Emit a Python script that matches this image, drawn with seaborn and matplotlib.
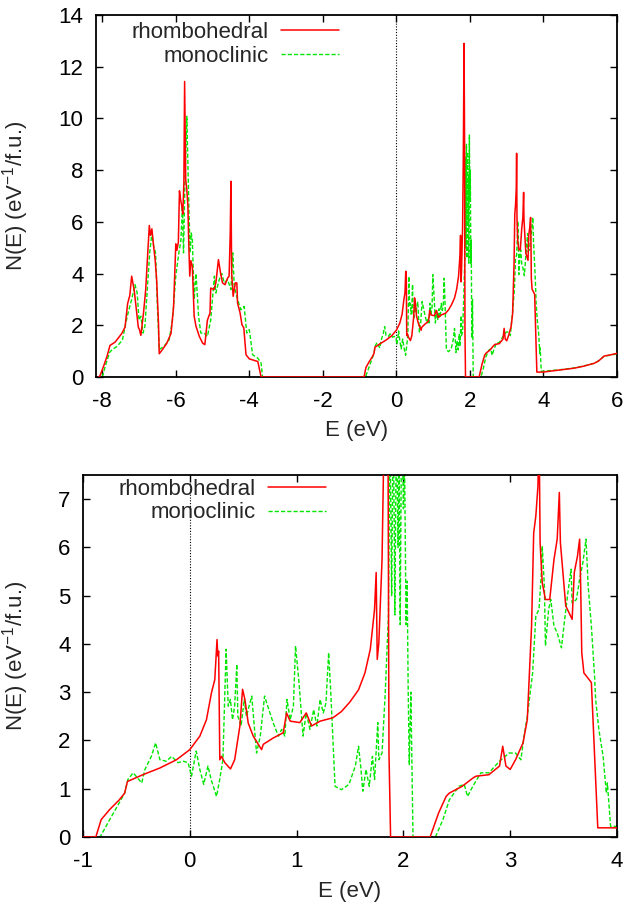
import numpy as np
import pandas as pd
import matplotlib
matplotlib.use("Agg")
import matplotlib.pyplot as plt
import seaborn as sns

# ---------------- data ----------------
rhombo_E = [-8.09, -8.06, -7.97, -7.87, -7.79, -7.65, -7.47, -7.38, -7.31, -7.25, -7.2, -7.13, -7.06,
            -7.02, -6.99, -6.95, -6.88, -6.82, -6.76, -6.72, -6.69, -6.65, -6.61, -6.56, -6.52, -6.47,
            -6.45, -6.38, -6.25, -6.13, -6.06, -6.0, -5.97, -5.93, -5.9, -5.87, -5.84, -5.81, -5.78,
            -5.76, -5.73, -5.7, -5.67, -5.65, -5.62, -5.59, -5.55, -5.5, -5.45, -5.36, -5.27, -5.21,
            -5.14, -5.07, -5.05, -4.96, -4.91, -4.84, -4.78, -4.73, -4.66, -4.59, -4.55, -4.52, -4.5,
            -4.48, -4.44, -4.38, -4.34, -4.32, -4.25, -4.2, -4.15, -4.09, -4.0, -3.77, -3.68,
            -0.88, -0.83, -0.75, -0.66, -0.61, -0.584, -0.44, -0.28, -0.125, 0.0, 0.094, 0.156, 0.203,
            0.234, 0.255, 0.262, 0.27, 0.281, 0.297, 0.328, 0.381, 0.42, 0.469, 0.494, 0.516, 0.547,
            0.594, 0.672, 0.688, 0.78, 0.875, 0.906, 0.94, 1.03, 1.09, 1.14, 1.22, 1.34, 1.42, 1.5,
            1.58, 1.64, 1.69, 1.73, 1.745, 1.755, 1.77, 1.80, 1.82, 1.84, 1.855, 1.865, 1.88,
            2.25, 2.33, 2.40, 2.43, 2.55, 2.65, 2.68, 2.8, 2.9, 2.93, 2.96, 3.0, 3.05, 3.12, 3.16,
            3.2, 3.22, 3.24, 3.26, 3.27, 3.28, 3.30, 3.33, 3.37, 3.41, 3.44, 3.46, 3.47, 3.52, 3.55,
            3.58, 3.60, 3.63, 3.65, 3.66, 3.67, 3.69, 3.76, 3.82, 3.99, 4.5, 4.83, 5.1, 5.38, 5.5,
            5.65, 5.8, 6.02]
rhombo_N = [0.0, 0.06, 0.39, 0.8, 1.22, 1.35, 1.68, 1.93, 2.84, 3.16, 3.9, 3.35, 2.45,
            1.93, 1.84, 1.61, 2.45, 3.35, 4.9, 5.86, 5.48, 5.73, 5.15, 4.51, 3.74, 2.06,
            0.9, 1.03, 1.29, 1.68, 2.71, 5.15, 4.9, 5.22, 7.2, 6.86, 6.64, 6.3, 7.5,
            11.43, 7.63, 7.25, 6.6, 5.3, 3.9, 4.5, 4.28, 2.35, 1.96, 1.57, 1.31, 1.25,
            2.2, 2.47, 3.44, 3.38, 3.64, 4.54, 4.0, 3.64, 3.57, 3.83, 3.9, 5.5, 7.57,
            4.0, 3.12, 3.64, 3.64, 2.86, 2.47, 2.02, 1.9, 0.86, 0.7, 0.6, 0.0,
            0.0, 0.36, 0.57, 0.77, 0.91, 1.15, 1.29, 1.43, 1.6, 1.81, 2.09, 2.43, 2.99,
            3.26, 4.09, 3.75, 3.85, 1.6, 1.67, 1.54, 1.41, 1.6, 2.3, 3.06, 2.85, 2.36,
            2.09, 1.81, 1.92, 2.05, 2.16, 2.57, 2.4, 2.37, 2.57, 2.3, 2.4, 2.47, 2.6, 2.8,
            3.05, 3.4, 3.89, 4.72, 5.48, 3.68, 4.02, 5.75, 8.5, 12.9, 9.0, 1.74, 0.0,
            0.0, 0.5, 0.84, 0.91, 1.05, 1.22, 1.26, 1.29, 1.47, 1.88, 1.47, 1.4, 1.6, 1.95, 2.43,
            4.37, 6.3, 6.65, 7.28, 8.65, 6.1, 5.27, 4.92, 4.92, 5.75, 6.17, 7.14, 6.1, 4.79, 4.65,
            4.51, 5.48, 5.82, 6.17, 5.2, 3.82, 3.4, 3.2, 0.19, 0.19, 0.28, 0.34, 0.42, 0.53, 0.62,
            0.81, 0.85, 0.92]

mono_E = [-8.0, -7.9, -7.8, -7.73, -7.59, -7.45, -7.32, -7.2, -7.11, -7.05, -7.0, -6.95, -6.89,
          -6.84, -6.77, -6.71, -6.65, -6.6, -6.55, -6.5, -6.45, -6.32, -6.18, -6.09, -6.0, -5.93,
          -5.86, -5.82, -5.79, -5.75, -5.7, -5.67, -5.64, -5.61, -5.58, -5.55, -5.5, -5.45, -5.38,
          -5.32, -5.23, -5.14, -5.05, -4.95, -4.91, -4.82, -4.75, -4.68, -4.59, -4.5, -4.45, -4.41,
          -4.32, -4.23, -4.14, -4.07, -4.0, -3.91, -3.77, -3.68, -3.64,
          -0.84, -0.75, -0.66, -0.61, -0.58, -0.53, -0.45, -0.42, -0.36, -0.32, -0.28, -0.22, -0.17,
          -0.11, -0.06, -0.016, 0.016, 0.06, 0.094, 0.13, 0.17, 0.2, 0.25, 0.28, 0.31, 0.34, 0.36,
          0.38, 0.4, 0.42, 0.44, 0.45, 0.48, 0.51, 0.53, 0.58, 0.625, 0.66, 0.70, 0.73, 0.78, 0.83,
          0.86, 0.89, 0.91, 0.94, 0.97, 0.99, 1.02, 1.03, 1.06, 1.09, 1.125, 1.16, 1.19, 1.22, 1.25,
          1.275, 1.3, 1.32, 1.36, 1.42, 1.49, 1.55, 1.58, 1.6, 1.62, 1.65, 1.68, 1.71, 1.73, 1.76,
          1.77, 1.8, 1.83, 1.86, 1.875, 1.89, 1.905, 1.92, 1.935, 1.95, 1.96, 1.97, 1.985, 2.0,
          2.01, 2.025, 2.035, 2.045, 2.055, 2.07, 2.09,
          2.3, 2.37, 2.43, 2.52, 2.57, 2.6, 2.65, 2.725, 2.8, 2.9, 2.99, 3.05, 3.1, 3.13, 3.16,
          3.21, 3.24, 3.27, 3.29, 3.30, 3.32, 3.33, 3.36, 3.38, 3.41, 3.44, 3.48, 3.51, 3.54, 3.57,
          3.58, 3.62, 3.65, 3.68, 3.71, 3.73, 3.76, 3.79, 3.8, 3.83, 3.87, 3.9, 3.91, 3.94, 3.99,
          4.5, 4.83, 5.1, 5.38, 5.5, 5.65, 5.8, 6.02]
mono_N = [0.0, 0.5, 0.95, 1.06, 1.19, 1.44, 2.35, 3.0, 3.57, 3.25, 2.2, 2.35, 1.7,
          1.96, 3.5, 4.8, 5.57, 5.05, 4.8, 2.73, 1.06, 1.19, 1.44, 2.2, 3.9, 4.67,
          5.3, 6.6, 4.8, 7.63, 10.08, 8.15, 6.34, 4.8, 5.57, 5.3, 3.0, 4.0, 2.35,
          1.7, 1.7, 1.57, 2.2, 3.9, 3.25, 3.76, 4.0, 3.64, 3.76, 3.38, 4.8, 3.5,
          3.0, 2.6, 2.73, 1.7, 1.83, 0.86, 0.73, 0.54, 0.0,
          0.0, 0.36, 0.71, 0.91, 1.19, 1.33, 1.12, 1.4, 1.67, 1.95, 1.6, 1.57, 1.67,
          1.54, 1.57, 1.54, 1.26, 1.78, 1.4, 1.09, 1.47, 1.19, 0.84, 1.19, 1.6, 3.89, 2.71,
          2.85, 2.43, 2.71, 3.58, 2.5, 2.3, 2.85, 2.5, 2.92, 1.74, 2.09, 2.92, 2.71, 2.37, 2.09,
          2.23, 2.09, 2.85, 2.43, 2.71, 3.96, 3.26, 2.99, 2.09, 2.57, 2.23, 2.64, 2.3, 2.85, 2.57,
          2.78, 3.82, 2.99, 1.05, 0.98, 1.09, 1.47, 1.88, 1.47, 0.95, 1.4, 1.05, 1.67, 1.19, 2.37,
          1.6, 1.74, 2.99, 4.6, 8.5, 5.0, 9.0, 4.6, 8.7, 6.0, 7.8, 4.4, 9.36, 6.8,
          8.0, 4.4, 5.3, 3.0, 1.5, 3.0, 0.0,
          0.0, 0.36, 0.77, 1.05, 1.09, 0.84, 1.05, 1.33, 1.33, 1.57, 1.74, 1.74, 1.6, 2.09, 2.5,
          3.4, 4.58, 4.72, 5.41, 6.03, 5.2, 3.96, 4.72, 4.92, 4.37, 4.23, 3.92, 4.51, 5.06, 5.55,
          4.85, 4.92, 5.34, 5.68, 6.17, 5.2, 4.37, 3.33, 2.85, 2.23, 1.67, 0.91, 1.12, 0.22, 0.22,
          0.29, 0.35, 0.43, 0.53, 0.63, 0.8, 0.84, 0.9]

labels = ["rhombohedral", "monoclinic"]
top_xticks = [-8, -6, -4, -2, 0, 2, 4, 6]
top_yticks = [0, 2, 4, 6, 8, 10, 12, 14]
bot_xticks = [-1, 0, 1, 2, 3, 4]
bot_yticks = [0, 1, 2, 3, 4, 5, 6, 7]

# ---------------- style ----------------
sns.set_style("ticks")
plt.rcParams['font.family'] = ['Liberation Sans', 'DejaVu Sans']
plt.rcParams['mathtext.fontset'] = 'custom'
plt.rcParams['mathtext.rm'] = 'Liberation Sans'
plt.rcParams['axes.unicode_minus'] = False
FS = 16

df_r = pd.DataFrame({"E": rhombo_E, "N": rhombo_N})
df_m = pd.DataFrame({"E": mono_E, "N": mono_N})

W, H = 627, 907
fig = plt.figure(figsize=(W / 100, H / 100), dpi=100)
ax1 = fig.add_axes([96 / W, 1 - 377 / H, (617 - 96) / W, 362 / H])
ax2 = fig.add_axes([83 / W, 1 - 837 / H, (617 - 83) / W, 362 / H])

RED = "#ff0000"
GREEN = "#00e600"


def draw(ax, xlim, ylim, xticks, yticks, leg_anchor, ylab_x, xlab_y):
    ax.axvline(0, color="black", lw=0.8, ls=(0, (1, 1.5)), zorder=1)
    sns.lineplot(data=df_r, x="E", y="N", ax=ax, color=RED, lw=1.1, sort=False,
                 estimator=None, label=labels[0], zorder=3)
    sns.lineplot(data=df_m, x="E", y="N", ax=ax, color=GREEN, lw=1.0, sort=False,
                 estimator=None, label=labels[1], zorder=2)
    ax.lines[-1].set_dashes((3, 1.5))
    ax.set_xlim(*xlim)
    ax.set_ylim(*ylim)
    ax.set_xticks(xticks)
    ax.set_yticks(yticks)
    ax.tick_params(direction="in", length=5, width=1, top=True, right=True,
                   labelsize=FS, colors="black")
    ax.tick_params(axis="x", pad=10)
    ax.tick_params(axis="y", pad=9)
    for s in ax.spines.values():
        s.set_linewidth(1.3)
        s.set_color("black")
    ax.set_xlabel("E (eV)", fontsize=FS)
    ax.set_ylabel(r"N(E) (eV$^{-1}$/f.u.)", fontsize=FS)
    ax.yaxis.set_label_coords(ylab_x, 0.5)
    ax.xaxis.set_label_coords(0.5, xlab_y)
    h, l = ax.get_legend_handles_labels()
    ax.legend(h, l, loc="upper right", bbox_to_anchor=leg_anchor, frameon=False,
              markerfirst=False, fontsize=FS, handlelength=2.6, handletextpad=0.55,
              labelspacing=0.12, borderpad=0, borderaxespad=0)


draw(ax1, (-8.17, 6), (0, 14), top_xticks, top_yticks, (0.466, 0.98), -0.125, -0.118)
draw(ax2, (-1, 4), (0, 7.5), bot_xticks, bot_yticks, (0.455, 0.99), -0.097, -0.122)

fig.savefig("out.png", dpi=100)
